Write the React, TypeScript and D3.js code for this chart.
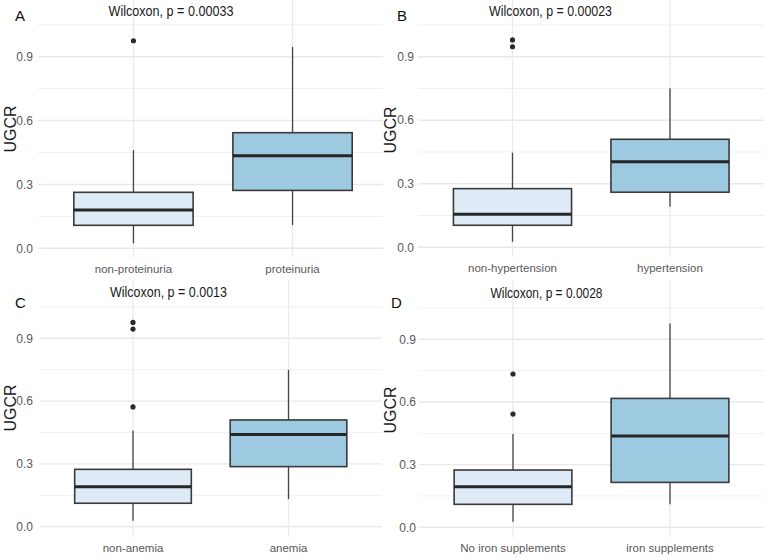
import React from "react";
import * as d3 from "d3";

// Summary statistics per panel, in the order A, B, C, D
const panelLetters = ["A", "B", "C", "D"];
const pValues = ["0.00033", "0.00023", "0.0013", "0.0028"];
const categories = [
  ["non-proteinuria", "proteinuria"],
  ["non-hypertension", "hypertension"],
  ["non-anemia", "anemia"],
  ["No iron supplements", "iron supplements"],
];
const whiskerLow = [
  [0.023, 0.109],
  [0.026, 0.192],
  [0.029, 0.132],
  [0.027, 0.11],
];
const q1 = [
  [0.108, 0.272],
  [0.104, 0.26],
  [0.112, 0.287],
  [0.11, 0.215],
];
const medians = [
  [0.18, 0.435],
  [0.156, 0.404],
  [0.191, 0.441],
  [0.194, 0.437],
];
const q3 = [
  [0.263, 0.543],
  [0.277, 0.51],
  [0.274, 0.51],
  [0.274, 0.617],
];
const whiskerHigh = [
  [0.461, 0.946],
  [0.447, 0.751],
  [0.459, 0.749],
  [0.447, 0.976],
];
const outliers = [
  [[0.975], []],
  [[0.979, 0.947], []],
  [[0.976, 0.944, 0.572], []],
  [[0.734, 0.542], []],
];
const yTicks = [0, 0.3, 0.6, 0.9];
const yMinor = [0.15, 0.45, 0.75, 1.05];
const fills = ["#deebf7", "#9ecae1"];

// panel placement, all relative to the panel's top-left corner
const panels = [
  { left: 0, top: 0, x0: 38, x1: 388, clip: 383, zero: 248.3, nine: 56.7, letter: [15, 21], title: [171, 16, 125], tickR: 33, ylab: [10, 129], xlabY: 272.7 },
  { left: 384, top: 0, x0: 34, x1: 380.5, clip: 380, zero: 247.3, nine: 56.7, letter: [13, 21], title: [166.5, 16, 123], tickR: 30, ylab: [6, 130], xlabY: 271.7 },
  { left: 0, top: 280, x0: 39.7, x1: 381.8, clip: 382, zero: 246.7, nine: 58.3, letter: [15, 28], title: [168.5, 17, 117], tickR: 33, ylab: [10, 128], xlabY: 271.7 },
  { left: 384, top: 280, x0: 34.8, x1: 380.2, clip: 380, zero: 247.3, nine: 59.3, letter: [7, 28], title: [162.5, 18, 112], tickR: 32, ylab: [6, 130], xlabY: 271.7 },
];

const FONT = "'Liberation Sans', Arial, sans-serif";
const PANEL_BOTTOM = 257;

function Panel({ i }: { i: number }) {
  const p = panels[i];
  const cats = categories[i];
  const x = d3.scalePoint<string>().domain(cats).range([p.x0, p.x1]).padding(0.6);
  const y = d3.scaleLinear().domain([0, 0.9]).range([p.zero, p.nine]);
  const boxW = x.step() * 0.75;
  const gx1 = Math.min(p.x1, p.clip);

  return (
    <g transform={`translate(${p.left},${p.top})`}>
      {/* grid */}
      {yMinor
        .filter((v) => y(v) > 2)
        .map((v) => (
          <line key={"mn" + v} x1={p.x0} x2={gx1} y1={y(v)} y2={y(v)} stroke="#f1f1f1" strokeWidth={1} />
        ))}
      {yTicks.map((v) => (
        <line key={"mj" + v} x1={p.x0} x2={gx1} y1={y(v)} y2={y(v)} stroke="#e9e9e9" strokeWidth={1.4} />
      ))}
      {cats.map((c) => (
        <line key={"vx" + c} x1={x(c)} x2={x(c)} y1={0} y2={PANEL_BOTTOM} stroke="#ebebeb" strokeWidth={1.4} />
      ))}

      {/* boxes */}
      {cats.map((c, j) => {
        const cx = x(c)!;
        return (
          <g key={c}>
            <line x1={cx} x2={cx} y1={y(whiskerHigh[i][j])} y2={y(q3[i][j])} stroke="#444" strokeWidth={1.3} />
            <line x1={cx} x2={cx} y1={y(q1[i][j])} y2={y(whiskerLow[i][j])} stroke="#444" strokeWidth={1.3} />
            <rect
              x={cx - boxW / 2}
              y={y(q3[i][j])}
              width={boxW}
              height={y(q1[i][j]) - y(q3[i][j])}
              fill={fills[j]}
              stroke="#3a3a3a"
              strokeWidth={1.6}
            />
            <line
              x1={cx - boxW / 2}
              x2={cx + boxW / 2}
              y1={y(medians[i][j])}
              y2={y(medians[i][j])}
              stroke="#262626"
              strokeWidth={3}
            />
            {outliers[i][j].map((v, k) => (
              <circle key={k} cx={cx} cy={y(v)} r={2.6} fill="#2b2b2b" />
            ))}
          </g>
        );
      })}

      {/* axes text */}
      {yTicks.map((v) => (
        <text
          key={"yt" + v}
          x={p.tickR}
          y={y(v)}
          dy="0.35em"
          textAnchor="end"
          fontFamily={FONT}
          fontSize={12}
          fill="#595959"
        >
          {d3.format(".1f")(v)}
        </text>
      ))}
      {cats.map((c) => (
        <text
          key={"xt" + c}
          x={x(c)}
          y={p.xlabY}
          textAnchor="middle"
          fontFamily={FONT}
          fontSize={11.5}
          fill="#595959"
        >
          {c}
        </text>
      ))}
      <text
        transform={`translate(${p.ylab[0]},${p.ylab[1]}) rotate(-90)`}
        dy="0.35em"
        textAnchor="middle"
        fontFamily={FONT}
        fontSize={16}
        fill="#1a1a1a"
      >
        UGCR
      </text>

      {/* title and panel letter */}
      <text
        x={p.title[0]}
        y={p.title[1]}
        textAnchor="middle"
        textLength={p.title[2]}
        lengthAdjust="spacingAndGlyphs"
        fontFamily={FONT}
        fontSize={15.5}
        fill="#1a1a1a"
      >
        {`Wilcoxon, p = ${pValues[i]}`}
      </text>
      <text x={p.letter[0]} y={p.letter[1]} fontFamily={FONT} fontSize={15} fill="#111">
        {panelLetters[i]}
      </text>
    </g>
  );
}

export default function App() {
  return (
    <svg
      width={767}
      height={559}
      style={{ position: "absolute", left: 0, top: 0, background: "#fff" }}
    >
      <rect width={767} height={559} fill="#fff" />
      {panels.map((_, i) => (
        <Panel key={i} i={i} />
      ))}
    </svg>
  );
}
